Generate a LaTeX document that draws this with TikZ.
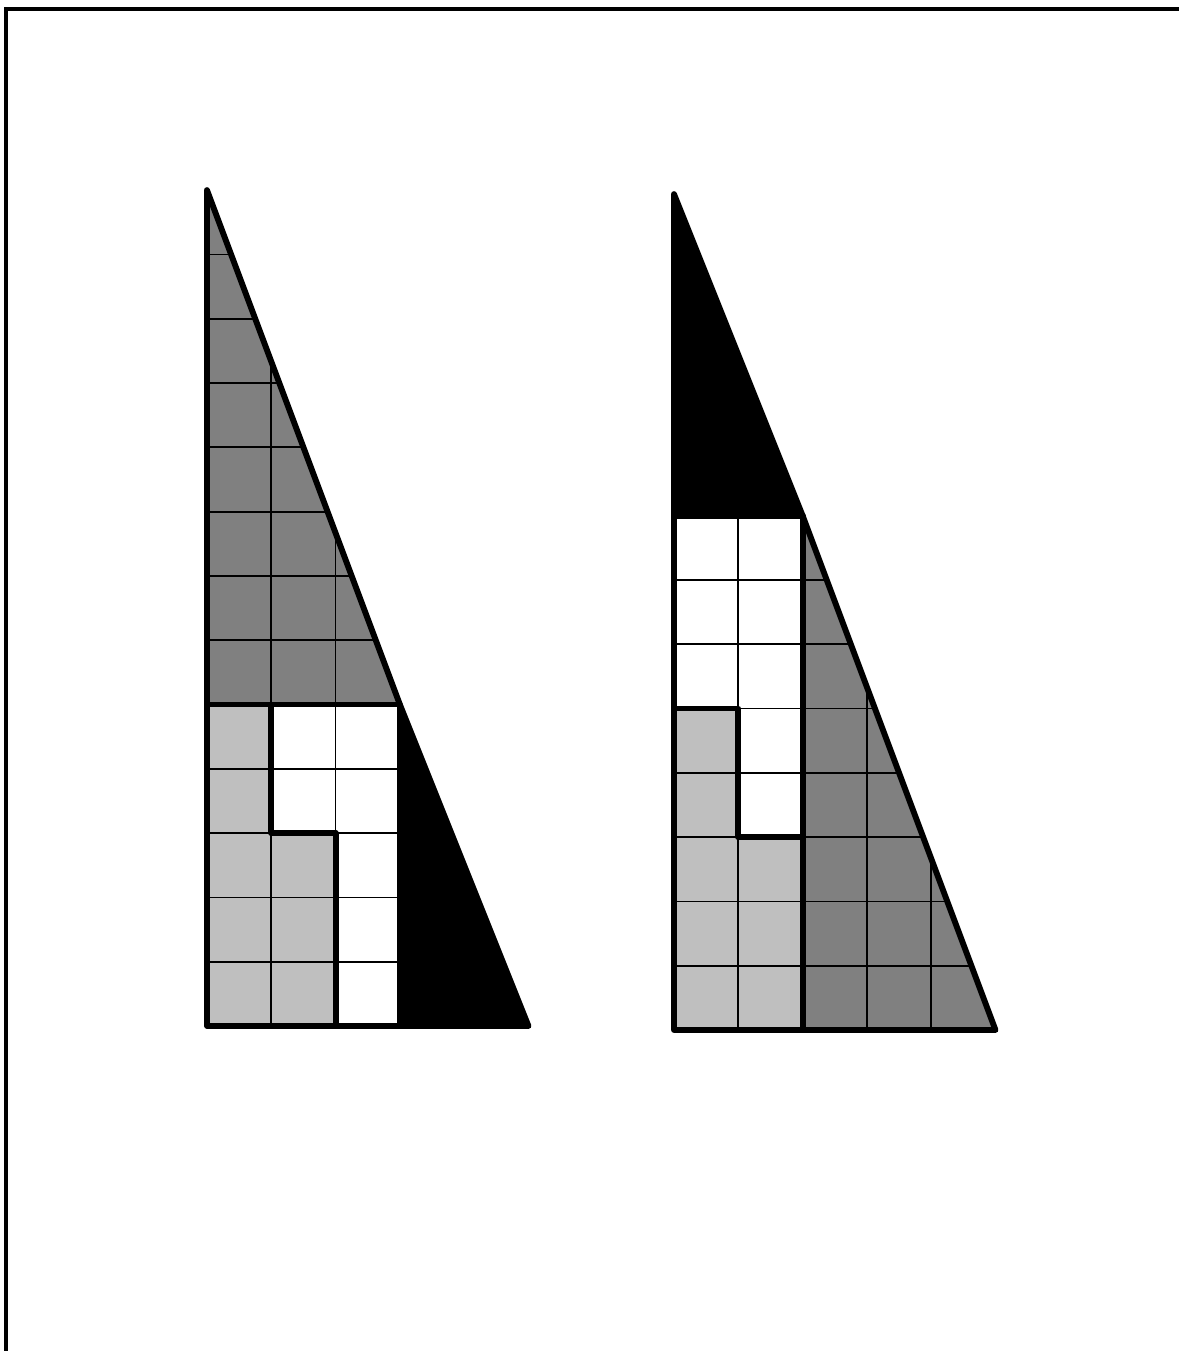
\documentclass[tikz,border=0pt]{standalone}
\usepackage{tikz}

\begin{document}
\begin{tikzpicture}[
    piece/.style={line width=2.6pt, line cap=round, line join=round},
    gridline/.style={line width=0.8pt},
    darkpart/.style={fill=black!50},
    lightpart/.style={fill=black!25}
  ]
    \useasboundingbox (0,0) rectangle (18.336,21.011);
    % frame (only top and left)
    \draw[line width=1.8pt] (0.093,0) -- (0.093,20.871) -- (18.336,20.871);

    % left triangle
    \begin{scope}[shift={(3.219,5.054)}]
        \fill[darkpart] (0,5) -- (3,5) -- (0,13) -- cycle;
        \fill[lightpart] (0,0) -- (2,0) -- (2,3) -- (1,3) -- (1,5) -- (0,5) -- cycle;
        \fill[white] (2,0) -- (3,0) -- (3,5) -- (1,5) -- (1,3) -- (2,3) -- cycle;
        \begin{scope}
            \clip (0,0) -- (3,0) -- (3,5) -- (0,13) -- cycle;
            \draw[gridline, step=1cm] (0,0) grid (5,13);
        \end{scope}
        \fill (3,0) -- (5,0) -- (3,5) -- cycle;

        \draw[piece] (0,13) -- (0,0) -- (5,0) -- (3,5) -- (0,13);
        \draw[piece] (0,5) -- (3,5) -- (3,0);
        \draw[piece] (1,5) -- (1,3) -- (2,3) -- (2,0);
    \end{scope}

    % right triangle
    \begin{scope}[shift={(10.482,4.992)}]
        \fill[darkpart] (2,0) -- (5,0) -- (2,8) -- cycle;
        \fill[lightpart] (0,0) -- (2,0) -- (2,3) -- (1,3) -- (1,5) -- (0,5) -- cycle;
        \fill[white] (0,5) -- (1,5) -- (1,3) -- (2,3) -- (2,8) -- (0,8) -- cycle;
        \begin{scope}
            \clip (0,0) -- (5,0) -- (2,8) -- (0,8) -- cycle;
            \draw[gridline, step=1cm] (0,0) grid (5,13);
        \end{scope}
        \fill (0,8) -- (2,8) -- (0,13) -- cycle;

        \draw[piece] (0,13) -- (0,0) -- (5,0) -- (2,8) -- (0,13);
        \draw[piece] (0,8) -- (2,8) -- (2,0);
        \draw[piece] (0,5) -- (1,5) -- (1,3) -- (2,3);
    \end{scope}
\end{tikzpicture}
\end{document}
